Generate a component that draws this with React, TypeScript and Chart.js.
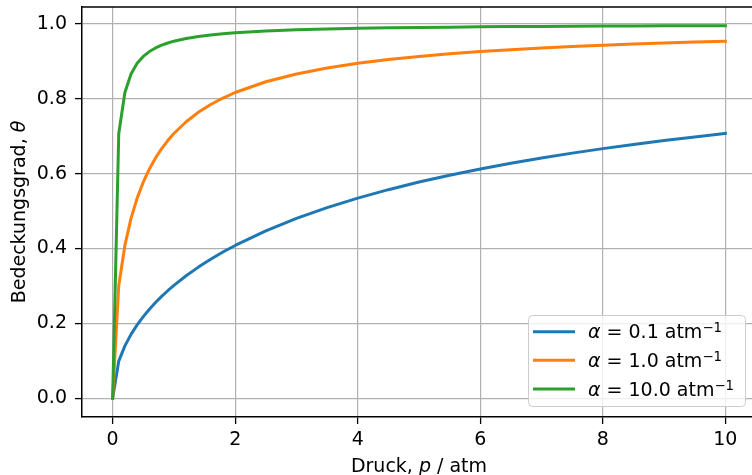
import React, { useEffect, useRef } from 'react';
import { Chart, registerables } from 'chart.js';

Chart.register(...registerables);

// Druck p / atm
const pressure = [0, 0.1, 0.2, 0.3, 0.4, 0.5, 0.6, 0.7, 0.8, 0.9, 1.0, 1.2, 1.4, 1.6, 1.8, 2.0, 2.5, 3, 3.5, 4, 4.5, 5, 5.5, 6, 6.5, 7, 7.5, 8, 8.5, 9, 9.5, 10];
// Bedeckungsgrad for alpha = 0.1 atm^-1
const thetaAlpha01 = [0, 0.0995, 0.140, 0.1707, 0.1961, 0.2182, 0.2379, 0.2558, 0.2722, 0.2873, 0.3015, 0.3273, 0.3504, 0.3714, 0.3906, 0.4082, 0.4472, 0.4804, 0.5092, 0.5345, 0.5571, 0.5774, 0.5957, 0.6124, 0.6276, 0.6417, 0.6547, 0.6667, 0.6778, 0.6882, 0.6980, 0.7071];
// alpha = 1.0 atm^-1
const thetaAlpha1 = [0, 0.3015, 0.4082, 0.4804, 0.5345, 0.5774, 0.6124, 0.6417, 0.6667, 0.6882, 0.7071, 0.7385, 0.7638, 0.7845, 0.8018, 0.8165, 0.8452, 0.8660, 0.8819, 0.8944, 0.9045, 0.9129, 0.9199, 0.9258, 0.9309, 0.9354, 0.9393, 0.9428, 0.9459, 0.9487, 0.9512, 0.9535];
// alpha = 10.0 atm^-1
const thetaAlpha10 = [0, 0.7071, 0.8165, 0.8660, 0.8944, 0.9129, 0.9258, 0.9354, 0.9428, 0.9487, 0.9535, 0.9608, 0.9661, 0.9701, 0.9733, 0.9759, 0.9806, 0.9837, 0.9860, 0.9877, 0.9891, 0.9901, 0.9910, 0.9918, 0.9924, 0.9929, 0.9934, 0.9938, 0.9942, 0.9945, 0.9948, 0.9950];

const alphaLabels = ['0.1', '1.0', '10.0'];
const seriesColors = ['#1f77b4', '#ff7f0e', '#2ca02c'];
const xTicks = [0, 2, 4, 6, 8, 10];
const yTicks = [0, 0.2, 0.4, 0.6, 0.8, 1.0];

const FONT = "'DejaVu Sans', 'Liberation Sans', sans-serif";
const FS = 19;

type Part = { text: string; italic?: boolean; size?: number; dy?: number };

function partFont(p: Part) {
  return `${p.italic ? 'italic ' : ''}${p.size ?? FS}px ${FONT}`;
}

function richWidth(ctx: CanvasRenderingContext2D, parts: Part[]) {
  let w = 0;
  for (const p of parts) {
    ctx.font = partFont(p);
    w += ctx.measureText(p.text).width;
  }
  return w;
}

function drawRich(ctx: CanvasRenderingContext2D, parts: Part[], x: number, y: number, align: 'left' | 'center') {
  let cx = align === 'center' ? x - richWidth(ctx, parts) / 2 : x;
  ctx.textAlign = 'left';
  ctx.textBaseline = 'alphabetic';
  for (const p of parts) {
    ctx.font = partFont(p);
    ctx.fillText(p.text, cx, y + (p.dy ?? 0));
    cx += ctx.measureText(p.text).width;
  }
}

const overlayPlugin = {
  id: 'overlay',
  afterDraw(chart: any) {
    const ctx: CanvasRenderingContext2D = chart.ctx;
    const a = chart.chartArea;
    ctx.save();
    // top spine
    ctx.strokeStyle = '#000';
    ctx.lineWidth = 1.5;
    ctx.beginPath();
    ctx.moveTo(a.left, a.top);
    ctx.lineTo(a.right, a.top);
    ctx.stroke();

    ctx.fillStyle = '#000';
    // x title
    drawRich(ctx, [{ text: 'Druck, ' }, { text: 'p', italic: true }, { text: ' / atm' }], (a.left + a.right) / 2, 471.5, 'center');
    // y title
    ctx.save();
    ctx.translate(25, (a.top + a.bottom) / 2);
    ctx.rotate(-Math.PI / 2);
    drawRich(ctx, [{ text: 'Bedeckungsgrad, ' }, { text: 'θ', italic: true }], 0, 0, 'center');
    ctx.restore();

    // legend
    const bx = 528.5, by = 315.5, bw = 217, bh = 91, r = 4;
    ctx.beginPath();
    ctx.moveTo(bx + r, by);
    ctx.lineTo(bx + bw - r, by);
    ctx.arcTo(bx + bw, by, bx + bw, by + r, r);
    ctx.lineTo(bx + bw, by + bh - r);
    ctx.arcTo(bx + bw, by + bh, bx + bw - r, by + bh, r);
    ctx.lineTo(bx + r, by + bh);
    ctx.arcTo(bx, by + bh, bx, by + bh - r, r);
    ctx.lineTo(bx, by + r);
    ctx.arcTo(bx, by, bx + r, by, r);
    ctx.closePath();
    ctx.fillStyle = 'rgba(255,255,255,0.8)';
    ctx.fill();
    ctx.strokeStyle = '#cccccc';
    ctx.lineWidth = 1;
    ctx.stroke();

    const rowY = [331.7, 360.3, 389];
    alphaLabels.forEach((lab, i) => {
      ctx.strokeStyle = seriesColors[i];
      ctx.lineWidth = 3;
      ctx.lineCap = 'square';
      ctx.beginPath();
      ctx.moveTo(534.5, rowY[i]);
      ctx.lineTo(573.5, rowY[i]);
      ctx.stroke();
      ctx.fillStyle = '#000';
      drawRich(ctx, [
        { text: 'α', italic: true },
        { text: ` = ${lab} atm` },
        { text: '−1', size: 13.3, dy: -6 },
      ], 588, rowY[i] + 6.5, 'left');
    });
    ctx.restore();
  },
};

export default function App() {
  const ref = useRef<HTMLCanvasElement>(null);
  useEffect(() => {
    document.body.style.margin = '0';
    document.body.style.overflow = 'hidden';
    const mk = (ys: number[]) => pressure.map((p, i) => ({ x: p, y: ys[i] }));
    const chart = new Chart(ref.current!, {
      type: 'line',
      data: {
        datasets: [thetaAlpha01, thetaAlpha1, thetaAlpha10].map((ys, i) => ({
          label: `α = ${alphaLabels[i]} atm⁻¹`,
          data: mk(ys),
          borderColor: seriesColors[i],
          backgroundColor: seriesColors[i],
          borderWidth: 3,
          borderCapStyle: 'square',
          borderJoinStyle: 'round',
          pointRadius: 0,
          tension: 0,
          fill: false,
          order: 2 - i,
        })),
      },
      options: {
        animation: false,
        responsive: false,
        devicePixelRatio: 1,
        layout: { padding: { top: 7, left: 0, right: 0, bottom: 0 } },
        plugins: { legend: { display: false }, tooltip: { enabled: false } },
        scales: {
          x: {
            type: 'linear',
            min: -0.5,
            max: 10.5,
            afterBuildTicks: (s: any) => { s.ticks = xTicks.map((v) => ({ value: v })); },
            afterFit: (s: any) => { s.height = 58; s.paddingLeft = 0; s.paddingRight = 0; },
            grid: { color: '#b0b0b0', lineWidth: 1.2, tickLength: 7, tickColor: '#000', tickWidth: 1.3, drawTicks: true },
            border: { color: '#000', width: 1.5 },
            ticks: {
              color: '#000', font: { family: FONT, size: FS }, padding: 5, maxRotation: 0, autoSkip: false,
              callback: (v: any) => String(v),
            },
          },
          y: {
            type: 'linear',
            min: -0.04975,
            max: 1.04475,
            afterBuildTicks: (s: any) => { s.ticks = yTicks.map((v) => ({ value: v })); },
            afterFit: (s: any) => { s.width = 82; s.paddingTop = 0; s.paddingBottom = 0; },
            grid: { color: '#b0b0b0', lineWidth: 1.2, tickLength: 7, tickColor: '#000', tickWidth: 1.3, drawTicks: true },
            border: { color: '#000', width: 1.5 },
            ticks: {
              color: '#000', font: { family: FONT, size: FS }, padding: 8, autoSkip: false,
              callback: (v: any) => Number(v).toFixed(1),
            },
          },
        },
      },
      plugins: [overlayPlugin],
    } as any);
    return () => chart.destroy();
  }, []);
  return (
    <div style={{ position: 'absolute', left: 0, top: 0, width: 752, height: 475, overflow: 'hidden', background: '#fff' }}>
      <canvas ref={ref} width={756} height={475} style={{ display: 'block' }} />
    </div>
  );
}
